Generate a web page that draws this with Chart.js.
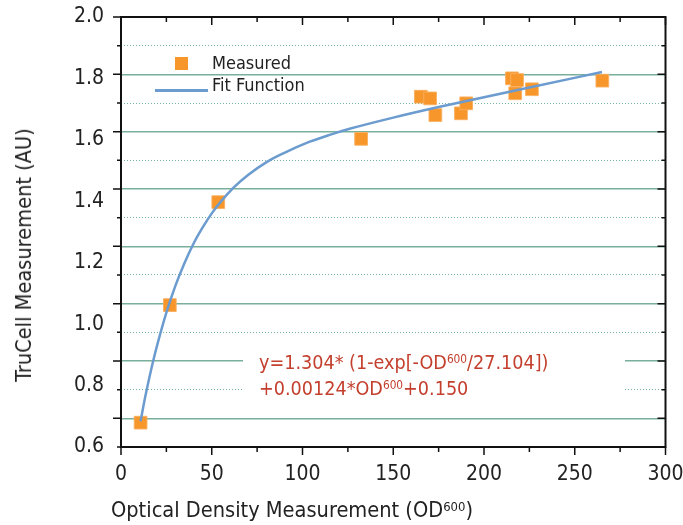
<!DOCTYPE html>
<html>
<head>
<meta charset="utf-8">
<script src="https://cdn.jsdelivr.net/npm/chart.js@4"></script>
<style>
  body { margin: 0; background: #fff; }
  #wrap { position: relative; width: 683px; height: 525px; font-family: "DejaVu Sans Condensed", "DejaVu Sans", sans-serif; color: #222; }
  .sup { font-size: 60%; position: relative; top: -0.5em; }
  .abs { position: absolute; white-space: nowrap; }
</style>
</head>
<body>
<div id="wrap">
  <canvas id="chart"></canvas>
  <!-- legend -->
  <div class="abs" style="left:175px;top:57px;width:13px;height:13px;background:#f7962a"></div>
  <div class="abs" style="left:212px;top:52px;font-size:18px;line-height:22px">Measured</div>
  <div class="abs" style="left:155px;top:89px;width:53px;height:2.5px;background:#6b9bcf"></div>
  <div class="abs" style="left:212px;top:74px;font-size:18px;line-height:22px">Fit Function</div>
  <!-- fit equation -->
  <div class="abs" style="left:243px;top:348px;width:382px;height:50px;padding-left:16px;padding-top:3px;box-sizing:border-box;background:#fff;color:#c4402e;font-size:19.6px;line-height:23px">
    y=1.304* (1-exp[-OD<span class="sup">600</span>/27.104])<br>+0.00124*OD<span class="sup">600</span>+0.150
  </div>
  <!-- axis titles -->
  <div class="abs" style="left:111px;top:498px;font-size:21.6px;line-height:24px">Optical Density Measurement (OD<span class="sup">600</span>)</div>
  <div class="abs" style="left:24px;top:255px;font-size:21.6px;line-height:24px;transform:translate(-50%,-50%) rotate(-90deg)">TruCell Measurement (AU)</div>
</div>
<script>
// measured points (OD600, TruCell)
const measuredX = [10.8, 26.9, 53.6, 132.3, 165.2, 170.3, 173.2, 187.3, 190.2, 215.4, 218.2, 217.2, 226.4, 265.2];
const measuredY = [0.585, 0.995, 1.354, 1.575, 1.722, 1.716, 1.658, 1.664, 1.699, 1.786, 1.780, 1.734, 1.748, 1.778];

// fit curve
const fitX = [10.8, 13, 15, 17.5, 20, 25, 30, 35, 40, 45, 50, 55, 62, 70, 80, 90, 104, 115, 126, 150, 175, 200, 225, 265];
const fitY = [0.590, 0.664, 0.724, 0.794, 0.857, 0.969, 1.063, 1.142, 1.210, 1.266, 1.315, 1.356, 1.405, 1.449, 1.493, 1.526, 1.565, 1.589, 1.610, 1.649, 1.686, 1.720, 1.754, 1.808];

// tick labels shown on the left side
const yLabels = ["0.6", "0.8", "1.0", "1.2", "1.4", "1.6", "1.8", "2.0"];

const tickFont = { family: '"DejaVu Sans Condensed", "DejaVu Sans", sans-serif', size: 21 };

function isMajorY(v) {
  return Math.round((2.0 - v) * 10) % 2 === 0;
}

function noEdgePadding(s) {
  s.paddingLeft = 0;
  s.paddingRight = 0;
  s.paddingTop = 0;
  s.paddingBottom = 0;
}

// axis frame + tick marks (outer on left/bottom, inner on top/right)
const frameTicks = {
  id: "frameTicks",
  afterDraw(chart) {
    const { ctx, chartArea: a } = chart;
    const x = chart.scales.x;
    const y = chart.scales.y;
    ctx.save();
    ctx.strokeStyle = "#111";
    ctx.lineWidth = 1.5;
    ctx.beginPath();
    y.ticks.forEach((t) => {
      const py = y.getPixelForValue(t.value);
      const len = isMajorY(t.value) ? 8 : 4;
      ctx.moveTo(a.left - len, py);
      ctx.lineTo(a.left, py);
      ctx.moveTo(a.right, py);
      ctx.lineTo(a.right - len, py);
    });
    x.ticks.forEach((t) => {
      const px = x.getPixelForValue(t.value);
      const len = t.value % 50 === 0 ? 8 : 5;
      ctx.moveTo(px, a.bottom);
      ctx.lineTo(px, a.bottom + len);
      ctx.moveTo(px, a.top);
      ctx.lineTo(px, a.top + len);
    });
    ctx.stroke();
    ctx.lineWidth = 2;
    ctx.strokeRect(a.left, a.top, a.right - a.left, a.bottom - a.top);
    ctx.restore();
  },
};

new Chart(document.getElementById("chart"), {
  type: "scatter",
  data: {
    datasets: [
      {
        label: "Fit Function",
        data: fitX.map((v, i) => ({ x: v, y: fitY[i] })),
        showLine: true,
        borderColor: "#6b9bcf",
        borderWidth: 2.5,
        pointRadius: 0,
        cubicInterpolationMode: "monotone",
        order: 0,
      },
      {
        label: "Measured",
        data: measuredX.map((v, i) => ({ x: v, y: measuredY[i] })),
        pointStyle: "rect",
        pointRadius: 9,
        backgroundColor: "#f7962a",
        borderColor: "rgba(250,175,95,0.9)",
        borderWidth: 1,
        order: 1,
      },
    ],
  },
  options: {
    responsive: true,
    maintainAspectRatio: false,
    animation: false,
    layout: { padding: { left: 71, right: 17.5, top: 17, bottom: 18 } },
    plugins: { legend: { display: false }, tooltip: { enabled: false } },
    scales: {
      x: {
        type: "linear",
        min: 0,
        max: 300,
        border: { display: false },
        grid: { display: false },
        ticks: {
          stepSize: 25,
          autoSkip: false,
          maxRotation: 0,
          padding: 7,
          color: "#222",
          font: tickFont,
          callback: (v) => (v % 50 === 0 ? v : ""),
        },
        afterFit: (s) => {
          s.height = 60;
          noEdgePadding(s);
        },
      },
      y: {
        type: "linear",
        position: "left",
        weight: 0,
        min: 0.5,
        max: 2.0,
        border: {
          display: false,
          dash: (c) => (isMajorY(c.tick.value) ? [] : [1, 2]),
        },
        grid: {
          drawTicks: false,
          color: (c) => (isMajorY(c.tick.value) ? "#78b09c" : "#6fb59d"),
          lineWidth: (c) => (isMajorY(c.tick.value) ? 1.4 : 1),
        },
        ticks: { display: false, stepSize: 0.1 },
        afterFit: (s) => {
          s.width = 0;
          noEdgePadding(s);
        },
      },
      y2: {
        type: "linear",
        position: "left",
        weight: 1,
        min: 0.6,
        max: 2.0,
        border: { display: false },
        grid: { display: false, drawTicks: false },
        ticks: {
          stepSize: 0.2,
          padding: 17,
          color: "#222",
          font: tickFont,
          callback: (v, i) => yLabels[i],
        },
        afterFit: (s) => {
          s.width = 50;
          noEdgePadding(s);
        },
      },
    },
  },
  plugins: [frameTicks],
});
</script>
</body>
</html>
